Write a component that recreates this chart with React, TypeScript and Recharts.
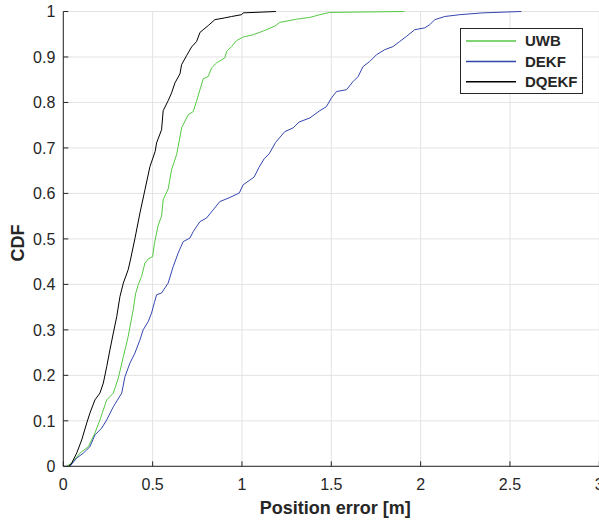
import React from "react";
import {
  LineChart,
  Line,
  XAxis,
  YAxis,
  CartesianGrid,
  Legend,
} from "recharts";

// CDF samples, [position error (m), cdf]
const uwb: [number, number][] = [
  [0.019, 0], [0.047, 0.007], [0.093, 0.029], [0.14, 0.043], [0.177, 0.073],
  [0.205, 0.102], [0.243, 0.146], [0.28, 0.161], [0.308, 0.194], [0.336, 0.241],
  [0.363, 0.285], [0.391, 0.344], [0.405, 0.38], [0.42, 0.4], [0.438, 0.417],
  [0.457, 0.447], [0.475, 0.456], [0.5, 0.461], [0.51, 0.49], [0.531, 0.53],
  [0.55, 0.55], [0.559, 0.586], [0.587, 0.61], [0.606, 0.652], [0.634, 0.685],
  [0.643, 0.703], [0.662, 0.744], [0.699, 0.773], [0.727, 0.78], [0.746, 0.803],
  [0.765, 0.828], [0.783, 0.852], [0.811, 0.857], [0.83, 0.876], [0.858, 0.887],
  [0.904, 0.898], [0.914, 0.912], [0.942, 0.923], [0.97, 0.936], [1.007, 0.944],
  [1.063, 0.949], [1.119, 0.957], [1.184, 0.968], [1.212, 0.976], [1.305, 0.983],
  [1.38, 0.987], [1.436, 0.993], [1.49, 0.998], [1.91, 1.0],
];

const dekf: [number, number][] = [
  [0.037, 0], [0.075, 0.018], [0.112, 0.029], [0.149, 0.043], [0.177, 0.069],
  [0.215, 0.084], [0.243, 0.102], [0.28, 0.131], [0.327, 0.161], [0.345, 0.197],
  [0.373, 0.227], [0.401, 0.249], [0.429, 0.278], [0.447, 0.3], [0.475, 0.318],
  [0.494, 0.337], [0.51, 0.36], [0.522, 0.377], [0.55, 0.381], [0.587, 0.403],
  [0.615, 0.439], [0.643, 0.469], [0.671, 0.494], [0.709, 0.502], [0.727, 0.516],
  [0.765, 0.538], [0.802, 0.546], [0.839, 0.564], [0.876, 0.582], [0.932, 0.591],
  [0.985, 0.601], [1.007, 0.619], [1.068, 0.636], [1.095, 0.657], [1.124, 0.676],
  [1.152, 0.687], [1.188, 0.712], [1.24, 0.736], [1.286, 0.744], [1.32, 0.757],
  [1.38, 0.766], [1.436, 0.782], [1.473, 0.791], [1.501, 0.81], [1.529, 0.824],
  [1.585, 0.828], [1.622, 0.846], [1.65, 0.857], [1.678, 0.879], [1.715, 0.89],
  [1.753, 0.905], [1.799, 0.916], [1.846, 0.923], [1.883, 0.934], [1.92, 0.945],
  [1.967, 0.96], [2.023, 0.964], [2.051, 0.971], [2.079, 0.982], [2.135, 0.989],
  [2.219, 0.993], [2.349, 0.997], [2.564, 1.0],
];

const dqekf: [number, number][] = [
  [0.03, 0], [0.047, 0.007], [0.075, 0.029], [0.103, 0.058], [0.131, 0.095],
  [0.149, 0.117], [0.177, 0.146], [0.205, 0.161], [0.224, 0.183], [0.243, 0.219],
  [0.261, 0.256], [0.28, 0.293], [0.299, 0.329], [0.317, 0.373], [0.336, 0.403],
  [0.363, 0.432], [0.377, 0.456], [0.401, 0.501], [0.429, 0.557], [0.457, 0.608],
  [0.485, 0.659], [0.514, 0.692], [0.522, 0.711], [0.55, 0.74], [0.559, 0.782],
  [0.587, 0.804], [0.606, 0.821], [0.625, 0.843], [0.653, 0.863], [0.662, 0.883],
  [0.69, 0.903], [0.718, 0.922], [0.746, 0.934], [0.765, 0.954], [0.783, 0.96],
  [0.811, 0.969], [0.848, 0.982], [0.904, 0.986], [0.942, 0.989], [0.998, 0.993],
  [1.007, 0.997], [1.19, 1.0],
];

const seriesOrder = ["UWB", "DEKF", "DQEKF"];
const xTicks = [0, 0.5, 1, 1.5, 2, 2.5, 3];
const yTicks = [0, 0.1, 0.2, 0.3, 0.4, 0.5, 0.6, 0.7, 0.8, 0.9, 1];

const toRows = (pts: [number, number][]) => pts.map(([x, y]) => ({ x, y }));

const FONT = '"Liberation Sans", Arial, Helvetica, sans-serif';
const AXIS = "#262626";
const GRID = "#e3e3e3";
const TICK_LEN = 5;

const BottomTick = ({ x, y, payload }: any) => (
  <g>
    <line x1={x} x2={x} y1={y - 12} y2={y - 12 - TICK_LEN} stroke={AXIS} />
    <text x={x} y={y} dy="0.71em" textAnchor="middle" fill={AXIS} fontSize={16} fontFamily={FONT}>
      {String(payload.value)}
    </text>
  </g>
);

const LeftTick = ({ x, y, payload }: any) => (
  <g>
    <line x1={x + 8} x2={x + 8 + TICK_LEN} y1={y} y2={y} stroke={AXIS} />
    <text x={x} y={y} dy="0.355em" textAnchor="end" fill={AXIS} fontSize={16} fontFamily={FONT}>
      {String(payload.value)}
    </text>
  </g>
);

const TopTick = ({ x, y }: any) => (
  <line x1={x} x2={x} y1={y} y2={y + TICK_LEN} stroke={AXIS} />
);

const RightTick = ({ x, y }: any) => (
  <line x1={x} x2={x - TICK_LEN} y1={y} y2={y} stroke={AXIS} />
);

const LegendBox = ({ payload }: any) => {
  const items = [...(payload || [])].sort(
    (a: any, b: any) => seriesOrder.indexOf(a.value) - seriesOrder.indexOf(b.value)
  );
  return (
    <svg width={123} height={66} style={{ display: "block" }}>
      <rect x={0.5} y={0.5} width={122} height={65} fill="#fff" stroke={AXIS} />
      {items.map((entry: any, i: number) => {
        const cy = 13 + i * 20.4;
        return (
          <g key={entry.value}>
            <line x1={6} x2={56} y1={cy} y2={cy} stroke={entry.color} strokeWidth={1.5} />
            <text x={65} y={cy} dy="0.355em" fontSize={15} fontWeight="bold" fontFamily={FONT} fill={AXIS}>
              {entry.value}
            </text>
          </g>
        );
      })}
    </svg>
  );
};

export default function App() {
  return (
    <div style={{ position: "absolute", left: 0, top: 0, width: 599, height: 523, overflow: "hidden", background: "#fff" }}>
      <LineChart
        width={610}
        height={523}
        margin={{ top: 11.5, left: 23.3, right: 10.7, bottom: 26.7 }}
      >
        <CartesianGrid stroke={GRID} />
        <XAxis
          type="number"
          dataKey="x"
          domain={[0, 3]}
          ticks={xTicks}
          allowDataOverflow
          height={30}
          tickSize={0}
          tickMargin={12}
          tick={BottomTick}
          axisLine={{ stroke: AXIS }}
          label={{
            content: ({ viewBox }: any) => (
              <text
                x={viewBox.x + viewBox.width / 2 + 4}
                y={viewBox.y + 48}
                textAnchor="middle"
                fontSize={18}
                fontWeight="bold"
                fontFamily={FONT}
                fill={AXIS}
              >
                Position error [m]
              </text>
            ),
          }}
        />
        <XAxis
          xAxisId="top"
          orientation="top"
          type="number"
          domain={[0, 3]}
          ticks={xTicks}
          height={0}
          tickSize={0}
          tickMargin={0}
          tick={TopTick}
          axisLine={{ stroke: AXIS }}
        />
        <YAxis
          type="number"
          domain={[0, 1]}
          ticks={yTicks}
          width={40}
          tickSize={0}
          tickMargin={8}
          tick={LeftTick}
          axisLine={{ stroke: AXIS }}
          label={{
            content: ({ viewBox }: any) => {
              const cx = 18;
              const cy = viewBox.y + viewBox.height / 2 + 4;
              return (
                <text
                  x={cx}
                  y={cy}
                  transform={`rotate(-90 ${cx} ${cy})`}
                  dy="0.355em"
                  textAnchor="middle"
                  fontSize={18}
                  fontWeight="bold"
                  fontFamily={FONT}
                  fill={AXIS}
                >
                  CDF
                </text>
              );
            },
          }}
        />
        <YAxis
          yAxisId="right"
          orientation="right"
          type="number"
          domain={[0, 1]}
          ticks={yTicks}
          width={0}
          tickSize={0}
          tickMargin={0}
          tick={RightTick}
          axisLine={{ stroke: AXIS }}
        />
        <Legend
          layout="vertical"
          align="center"
          verticalAlign="middle"
          content={LegendBox}
          wrapperStyle={{ position: "absolute", left: 460, top: 28, width: 123, height: 66 }}
        />
        <Line
          name="UWB"
          data={toRows(uwb)}
          dataKey="y"
          stroke="#55c843"
          strokeWidth={1}
          dot={false}
          isAnimationActive={false}
        />
        <Line
          name="DEKF"
          data={toRows(dekf)}
          dataKey="y"
          stroke="#3346ad"
          strokeWidth={1}
          dot={false}
          isAnimationActive={false}
        />
        <Line
          name="DQEKF"
          data={toRows(dqekf)}
          dataKey="y"
          stroke="#000000"
          strokeWidth={1}
          dot={false}
          isAnimationActive={false}
        />
      </LineChart>
    </div>
  );
}
